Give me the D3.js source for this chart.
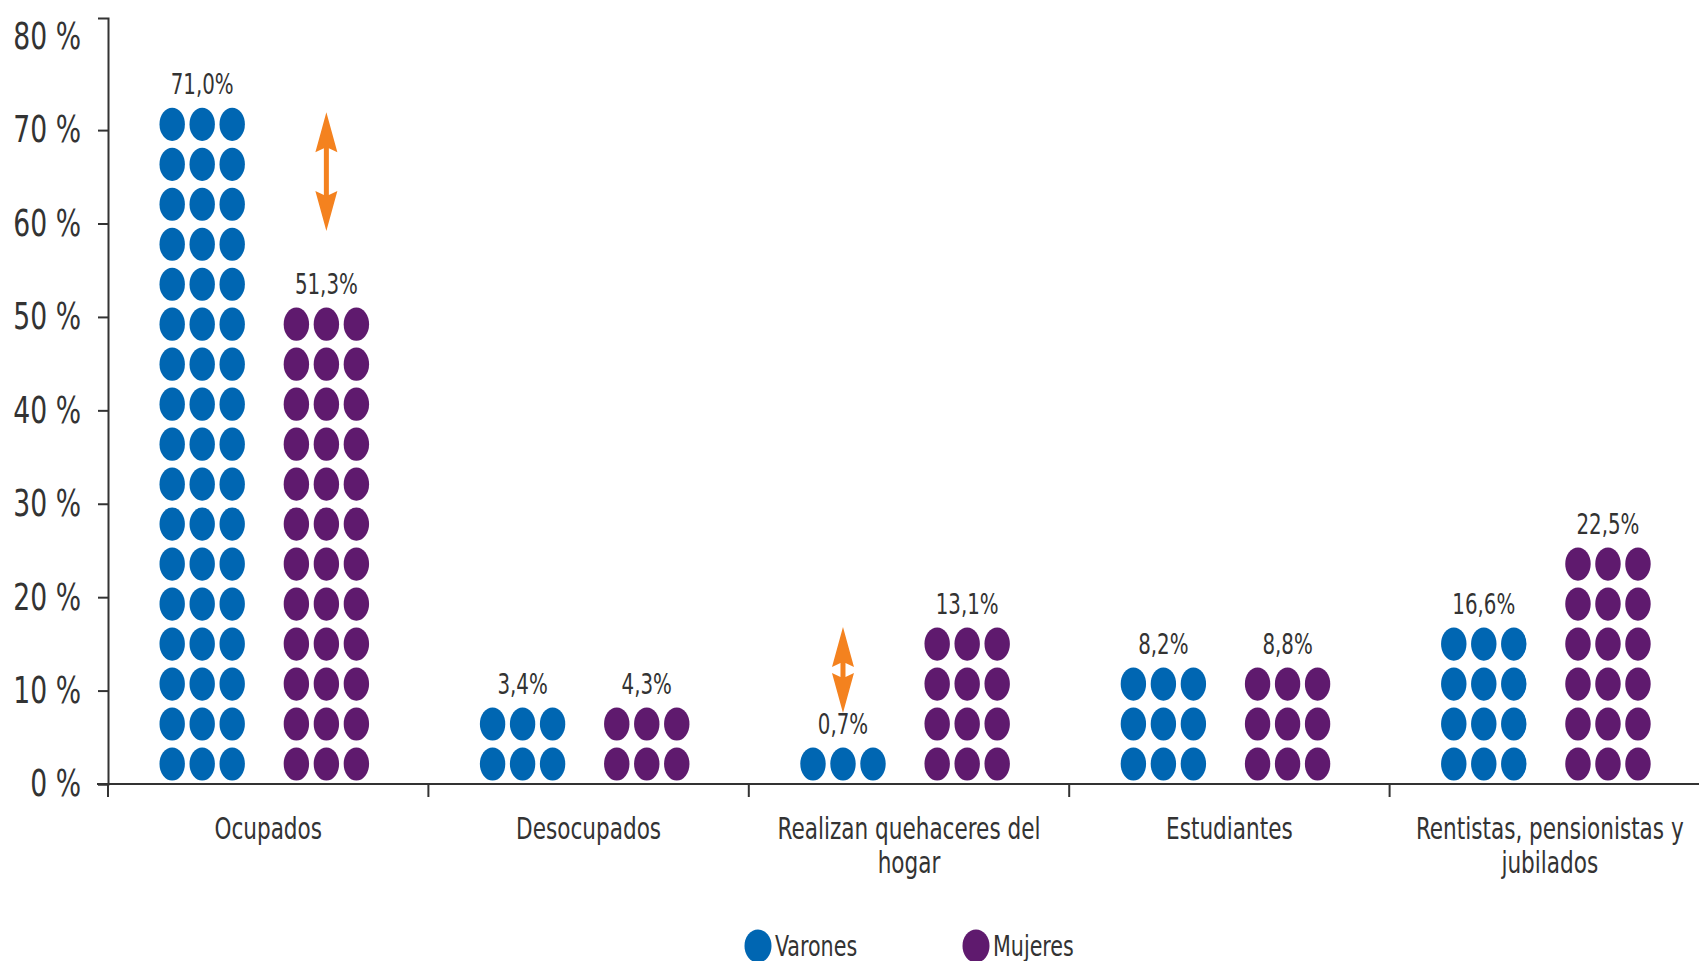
<!DOCTYPE html>
<html>
<head>
<meta charset="utf-8">
<script src="https://cdn.jsdelivr.net/npm/d3@7"></script>
<style>
  body { margin: 0; background: #fff; }
  svg { display: block; }
  text { font-family: "Liberation Sans Narrow", "DejaVu Sans Condensed", "Arial Narrow", sans-serif; fill: #333; }
</style>
</head>
<body>
<div class="wrapper"></div>
<script>
var categories = ["Ocupados", "Desocupados", "Realizan quehaceres del hogar", "Estudiantes", "Rentistas, pensionistas y jubilados"];
var series = ["Varones", "Mujeres"];
var varones = [71.0, 3.4, 0.7, 8.2, 16.6];
var mujeres = [51.3, 4.3, 13.1, 8.8, 22.5];
// rows of dots drawn for each bar
var rowsVarones = [17, 2, 1, 3, 4];
var rowsMujeres = [12, 2, 4, 3, 6];
var yTicks = [0, 10, 20, 30, 40, 50, 60, 70, 80];
// orange arrows: category, serie, from %, to %
var arrows = [
  {cat: "Ocupados", serie: "Mujeres", from: 59.2, to: 71.9},
  {cat: "Realizan quehaceres del hogar", serie: "Varones", from: 7.6, to: 16.8}
];

var colors = {Varones: "#0066b2", Mujeres: "#5f1a6e"};
var dotStep = 4.28; // % per row of dots

var width = 1699, height = 961;
var svg = d3.select(".wrapper").append("svg")
  .attr("width", width)
  .attr("height", height);

var x0 = d3.scaleBand()
  .domain(categories)
  .range([108, 108 + 5 * 320.4]);
var x1 = d3.scalePoint()
  .domain(series)
  .range([0, x0.bandwidth()])
  .padding(0.79)
  .align(0.48);
var y = d3.scaleLinear()
  .domain([0, 82])
  .range([784, 18]);

var fmt = d3.formatLocale({decimal: ",", thousands: ".", grouping: [3], currency: ["", ""]}).format(".1f");

// narrow text: the fallback font is wider than the original one
function squeeze(sel, sx) {
  sel.each(function() {
    var t = d3.select(this);
    var x = +t.attr("x") || 0, yy = +t.attr("y") || 0;
    t.attr("x", 0).attr("y", 0)
      .attr("transform", "translate(" + x + "," + yy + ") scale(" + sx + ",1)");
    t.selectAll("tspan").attr("x", 0);
  });
}

// y axis
var yAxis = svg.append("g")
  .attr("transform", "translate(108,0)")
  .call(d3.axisLeft(y).tickValues(yTicks).tickSize(10).tickSizeOuter(10).tickPadding(17)
    .tickFormat(function(d) { return d + " %"; }));
yAxis.select(".domain").attr("stroke", "#333").attr("stroke-width", 2);
yAxis.selectAll(".tick line").attr("stroke", "#333").attr("stroke-width", 2);
yAxis.selectAll(".tick").filter(function(d) { return d == 80; }).select("line").remove();
yAxis.selectAll(".tick text")
  .attr("font-size", 37)
  .attr("font-family", null)
  .attr("fill", "#333")
  .call(squeeze, 0.8);

// x axis
var xAxis = svg.append("g");
xAxis.append("line")
  .attr("x1", 97).attr("x2", width)
  .attr("y1", y(0)).attr("y2", y(0))
  .attr("stroke", "#333").attr("stroke-width", 2);
xAxis.selectAll(".xtick")
  .data(categories)
  .enter().append("line")
    .attr("x1", function(d) { return x0(d); })
    .attr("x2", function(d) { return x0(d); })
    .attr("y1", y(0))
    .attr("y2", y(0) + 13)
    .attr("stroke", "#333").attr("stroke-width", 2);
xAxis.selectAll(".xlabel")
  .data(categories)
  .enter().append("text")
    .attr("class", "xlabel")
    .attr("x", function(d) { return x0(d) + x0.bandwidth() / 2; })
    .attr("y", 839)
    .attr("text-anchor", "middle")
    .attr("font-size", 30)
    .text(function(d) { return d; })
    .call(wrap, 350)
    .call(squeeze, 0.8);

function wrap(text, w) {
  text.each(function() {
    var t = d3.select(this),
      words = t.text().split(/\s+/),
      x = t.attr("x"),
      line = [],
      tspan = t.text(null).append("tspan").attr("x", x);
    words.forEach(function(word) {
      line.push(word);
      tspan.text(line.join(" "));
      if (tspan.node().getComputedTextLength() > w && line.length > 1) {
        line.pop();
        tspan.text(line.join(" "));
        line = [word];
        tspan = t.append("tspan").attr("x", x).attr("dy", "1.15em").text(word);
      }
    });
  });
}

// dots
var dots = [];
var labels = [];
categories.forEach(function(c, i) {
  [["Varones", varones[i], rowsVarones[i]], ["Mujeres", mujeres[i], rowsMujeres[i]]].forEach(function(s) {
    for (var r = 0; r < s[2]; ++r) {
      for (var k = -1; k <= 1; ++k) {
        dots.push({cat: c, serie: s[0], row: r, col: k});
      }
    }
    labels.push({cat: c, serie: s[0], value: s[1], rows: s[2]});
  });
});

var colGap = 30;
var ry = (y(0) - y(dotStep)) * 0.415;
var rx = 12.7;
function rowY(r) { return y((r + 0.5) * dotStep); }

svg.append("g")
  .selectAll("ellipse")
  .data(dots)
  .enter().append("ellipse")
    .attr("cx", function(d) { return x0(d.cat) + x1(d.serie) + d.col * colGap; })
    .attr("cy", function(d) { return rowY(d.row); })
    .attr("rx", rx)
    .attr("ry", ry)
    .attr("fill", function(d) { return colors[d.serie]; });

svg.append("g")
  .selectAll("text")
  .data(labels)
  .enter().append("text")
    .attr("x", function(d) { return x0(d.cat) + x1(d.serie); })
    .attr("y", function(d) { return rowY(d.rows - 1) - 40; })
    .attr("dy", "0.35em")
    .attr("text-anchor", "middle")
    .attr("font-size", 29)
    .text(function(d) { return fmt(d.value) + "%"; })
    .call(squeeze, 0.76);

// arrows
var hl = 40, hw = 11, sw = 2.5;
svg.append("g")
  .selectAll("path")
  .data(arrows)
  .enter().append("path")
    .attr("fill", "#f4821f")
    .attr("d", function(d) {
      var x = x0(d.cat) + x1(d.serie), t = y(d.to), b = y(d.from);
      return "M" + x + "," + t +
        "L" + (x + hw) + "," + (t + hl) +
        "L" + (x + sw) + "," + (t + hl - 4) +
        "L" + (x + sw) + "," + (b - hl + 4) +
        "L" + (x + hw) + "," + (b - hl) +
        "L" + x + "," + b +
        "L" + (x - hw) + "," + (b - hl) +
        "L" + (x - sw) + "," + (b - hl + 4) +
        "L" + (x - sw) + "," + (t + hl - 4) +
        "L" + (x - hw) + "," + (t + hl) + "Z";
    });

// legend
var legend = svg.append("g")
  .selectAll("g")
  .data(series)
  .enter().append("g")
    .attr("transform", function(d, i) { return "translate(" + (758 + i * 218) + ",946)"; });
legend.append("ellipse")
  .attr("rx", 13.5)
  .attr("ry", 16.5)
  .attr("fill", function(d) { return colors[d]; });
legend.append("text")
  .attr("x", 17)
  .attr("dy", "0.35em")
  .attr("font-size", 28)
  .text(function(d) { return d; })
  .call(squeeze, 0.82);
</script>
</body>
</html>
